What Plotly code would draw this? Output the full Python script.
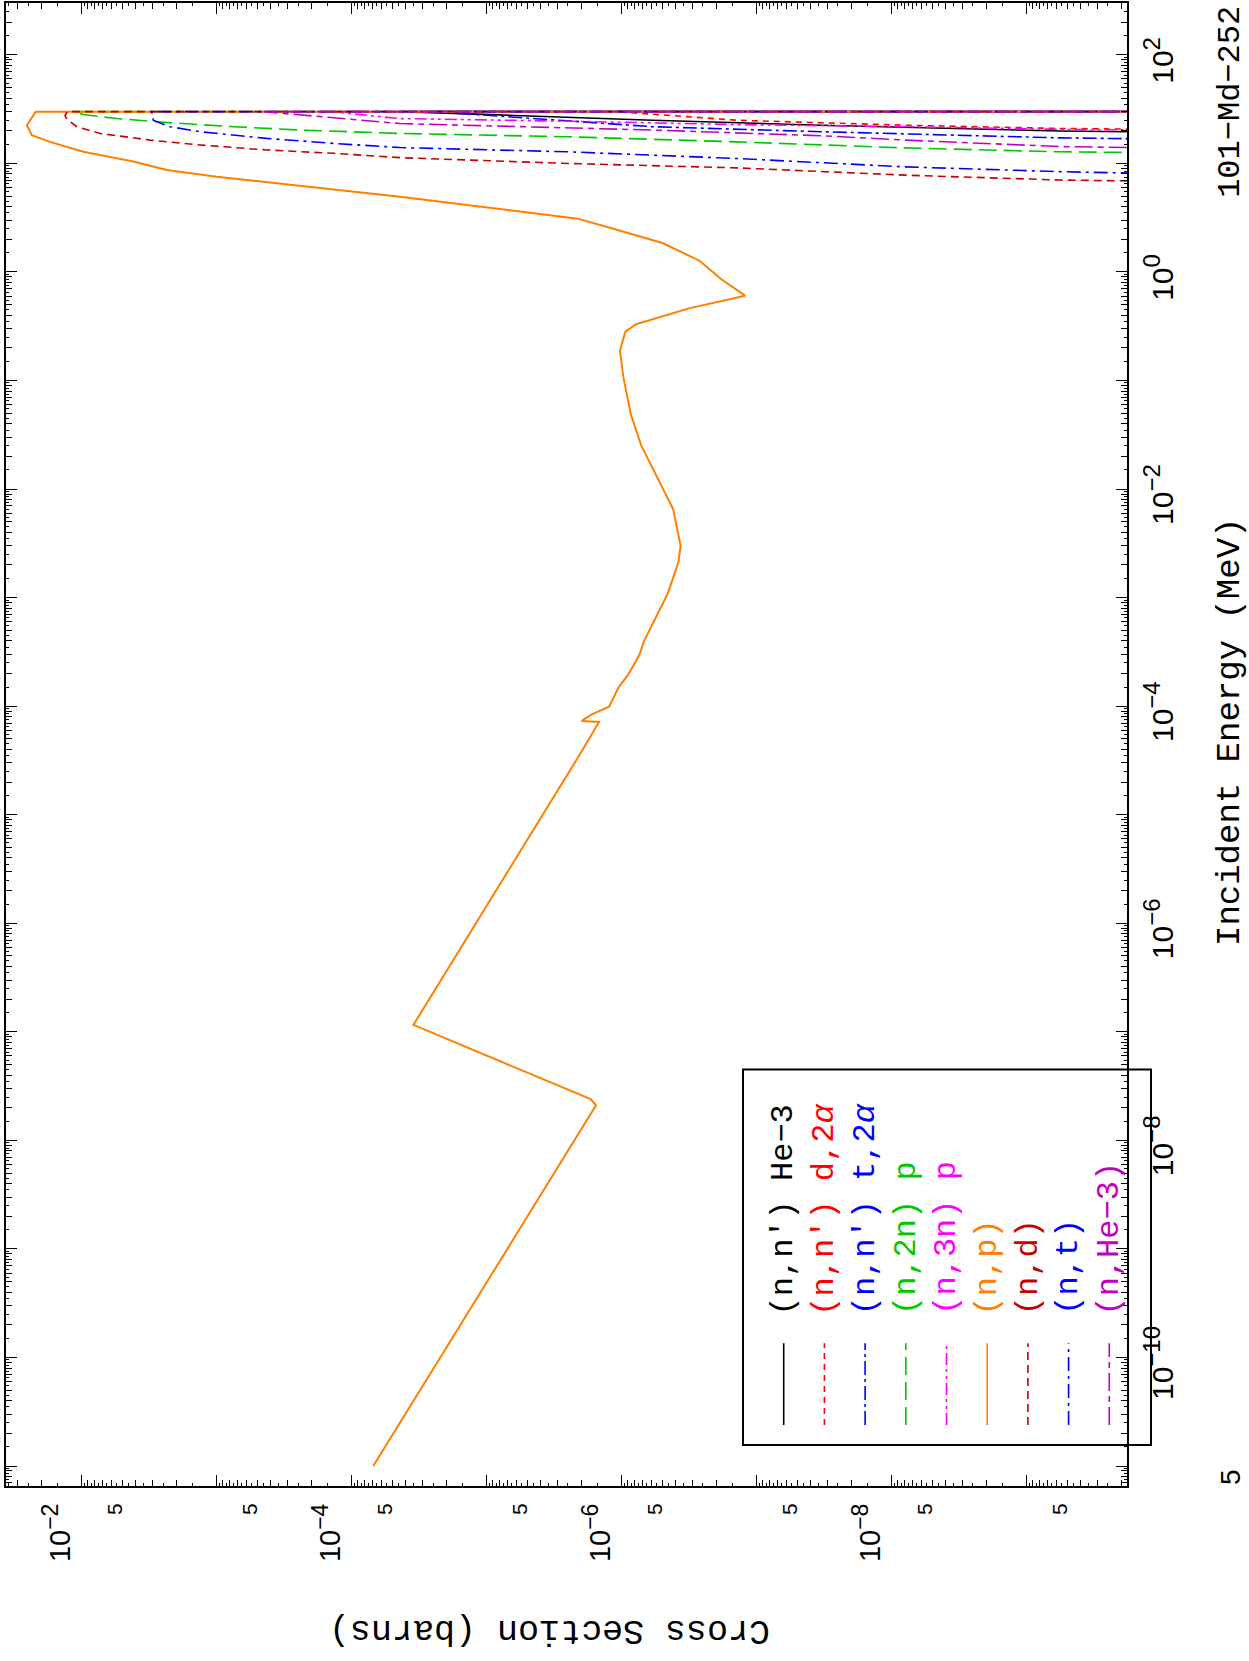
import plotly.graph_objects as go

# ---------------- data (energy in MeV, cross section in barns) ----------------
E_np = [1.0e-11, 2.1e-8, 2.4e-8, 1.16e-7, 3.24e-5, 7.16e-5, 7.31e-5, 8.41e-5, 9.89e-5,
        1.48e-4, 1.96e-4, 2.96e-4, 3.98e-4, 6.95e-4, 1.09e-3, 2.13e-3, 2.99e-3, 6.55e-3,
        1.28e-2, 2.51e-2, 4.92e-2, 0.108, 0.189, 0.282, 0.33, 0.462, 0.605, 0.865, 1.27,
        1.85, 2.48, 3.10, 4.94, 5.89, 6.79, 7.55, 8.69, 10.4, 12.8, 15.8, 18.2, 22.5, 30.0, 30.0]
XS_np = [6.93e-5, 1.55e-6, 1.70e-6, 3.49e-5, 2.15e-6, 1.47e-6, 1.98e-6, 1.67e-6, 1.24e-6,
         1.06e-6, 8.93e-7, 7.41e-7, 6.84e-7, 5.46e-7, 4.56e-7, 3.80e-7, 3.66e-7, 4.16e-7,
         5.46e-7, 7.16e-7, 8.57e-7, 9.73e-7, 1.03e-6, 9.4e-7, 7.83e-7, 3.18e-7, 1.22e-7, 1.85e-7,
         2.65e-7, 4.99e-7, 1.12e-6, 2.12e-6, 4.39e-5, 1.62e-4, 4.27e-4, 1.0e-3, 2.34e-3, 4.15e-3,
         9.73e-3, 1.72e-2, 2.34e-2, 2.55e-2, 2.19e-2, 1e-20]

E_nd = [6.6, 7.03, 7.8, 9.1, 10.0, 11.3, 12.4, 13.3, 14.8, 16.4, 18.9, 21.8, 25.5, 27.5, 30.0, 30.0]
XS_nd = [1e-11, 5.7e-10, 7.9e-9, 1.4e-7, 2.5e-6, 4.4e-5, 1.37e-4, 4.27e-4, 1.33e-3, 3.12e-3,
         7.3e-3, 1.09e-2, 1.28e-2, 1.33e-2, 1.28e-2, 1e-20]

E_n2np = [12.2, 12.8, 13.9, 15.8, 17.6, 18.9, 20.3, 21.8, 23.8, 25.9, 28.2, 30.0, 30.0]
XS_n2np = [1e-11, 5.7e-10, 7.9e-9, 1.4e-7, 2.5e-6, 4.4e-5, 2.4e-4, 7.5e-4, 2.34e-3, 5.5e-3,
           9.7e-3, 1.15e-2, 1e-20]

E_nt = [7.6, 8.4, 9.3, 11.1, 12.8, 14.0, 15.3, 17.0, 19.6, 21.8, 25.0, 30.0, 30.0]
XS_nt = [1e-11, 5.7e-10, 7.9e-9, 1.4e-7, 2.5e-6, 4.4e-5, 1.37e-4, 4.27e-4, 1.33e-3, 2.22e-3,
         2.95e-3, 3.03e-3, 1e-20]

E_nnHe3 = [18.8, 19.9, 22.5, 25.0, 28.3, 30.0, 30.0]
XS_nnHe3 = [1e-11, 5.7e-10, 3.35e-8, 5.9e-7, 1.05e-5, 4.4e-5, 1e-20]

E_nnd2a = [20.0, 21.0, 22.5, 25.0, 30.0, 30.0]
XS_nnd2a = [1e-11, 5.7e-10, 7.9e-9, 1.4e-7, 1.1e-6, 1e-20]

E_nnt2a = [16.2, 17.2, 19.6, 21.8, 27.9, 30.0, 30.0]
XS_nnt2a = [1e-11, 5.7e-10, 3.35e-8, 5.9e-7, 1.05e-5, 2.6e-5, 1e-20]

E_n3np = [19.8, 20.6, 21.8, 22.8, 24.5, 25.9, 30.0, 30.0]
XS_n3np = [1e-11, 5.7e-10, 7.9e-9, 1.4e-7, 2.5e-6, 4.4e-5, 1.45e-4, 1e-20]

E_nHe3 = [13.3, 14.3, 16.4, 18.0, 20.3, 22.2, 23.3, 30.0, 30.0]
XS_nHe3 = [1e-11, 5.7e-10, 7.9e-9, 3.35e-8, 5.9e-7, 1.05e-5, 4.4e-5, 4.5e-4, 1e-20]

labels = ["(n,n′) He−3", "(n,n′) d,2<i>α</i>", "(n,n′) t,2<i>α</i>", "(n,2n) p", "(n,3n) p",
          "(n,p)", "(n,d)", "(n,t)", "(n,He−3)"]
colors = ["#000000", "#ff0000", "#0000ff", "#00c800", "#ff00ff",
          "#ff8000", "#c80000", "#0000ff", "#c000c0"]
dashes = ["solid", "6px,5px", "14px,4px,3px,4px", "18px,7px", "12px,4px,3px,4px,3px,4px",
          "solid", "8px,5px", "14px,5px,3px,5px", "18px,5px,6px,5px"]
series_E = [E_nnHe3, E_nnd2a, E_nnt2a, E_n2np, E_n3np, E_np, E_nd, E_nt, E_nHe3]
series_XS = [XS_nnHe3, XS_nnd2a, XS_nnt2a, XS_n2np, XS_n3np, XS_np, XS_nd, XS_nt, XS_nHe3]

xs_label_decades = [-2, -4, -6, -8]
e_label_decades = [2, 0, -2, -4, -6, -8, -10]

# ---------------- layout geometry (pixels) ----------------
W, H = 1249, 1661
L, R, T, B = 6, 1127, 1, 1486
X_RANGE = [-1.439, -9.743]
Y_RANGE = [-11.184, 2.478]


def px(X):
    return (X - L) / (R - L)


def py(Y):
    return (B - Y) / (B - T)


def dec_label(k, sup_size):
    s = ("−%d" % -k) if k < 0 else str(k)
    return "10<sup><span style='font-size:%dpx'>%s</span></sup>" % (sup_size, s)


fig = go.Figure()
for e, s, c, d in zip(series_E, series_XS, colors, dashes):
    fig.add_trace(go.Scatter(x=s, y=e, mode="lines", showlegend=False, hoverinfo="skip",
                             line=dict(color=c, width=2 if c == "#ff8000" else 1.6, dash=d)))
# helper traces registering the overlay axes
for xa, ya in (("x2", "y"), ("x3", "y"), ("x", "y2")):
    fig.add_trace(go.Scatter(x=[None], y=[None], xaxis=xa, yaxis=ya, showlegend=False,
                             hoverinfo="skip"))

x_lab = [10.0 ** k for k in xs_label_decades]
x_lab_txt = [dec_label(k, 23) for k in xs_label_decades]
x_other = [10.0 ** k for k in range(-1, -11, -1) if k not in xs_label_decades]
x_min = [m * 10.0 ** k for k in range(-11, 0) for m in range(2, 10)]
x_half = [(m + 0.5) * 10.0 ** k for k in range(-11, 0) for m in range(1, 10)]
x_five = [5 * 10.0 ** k for k in range(-10, -2)]

y_lab = [10.0 ** k for k in e_label_decades]
y_lab_txt = [dec_label(k, 24) for k in e_label_decades]
y_other = [10.0 ** k for k in range(-11, 3) if k not in e_label_decades]
y_min = [m * 10.0 ** k for k in range(-12, 3) for m in range(2, 10)]
y_half = [(m + 0.5) * 10.0 ** k for k in range(-12, 3) for m in range(1, 10)]

common = dict(type="log", showgrid=False, zeroline=False, color="black")
tk = dict(ticks="inside", tickcolor="black", tickmode="array")

fig.update_layout(
    width=W, height=H, paper_bgcolor="white", plot_bgcolor="white",
    margin=dict(l=L, r=W - R, t=T, b=H - B, pad=0),
    xaxis=dict(**common, **tk, range=X_RANGE, showline=True, linecolor="black", linewidth=2,
               mirror="ticks", ticklen=11, tickwidth=1.3,
               tickvals=x_lab, ticktext=x_lab_txt, tickangle=-90,
               tickfont=dict(family="Liberation Sans", size=29, color="black"),
               ticklabelstandoff=4, ticklabelshift=21,
               minor=dict(tickmode="array", tickvals=x_min, ticks="inside", ticklen=6,
                          tickwidth=1, tickcolor="black")),
    xaxis2=dict(**common, **tk, range=X_RANGE, overlaying="x", anchor="y", side="bottom",
                showline=False, mirror="ticks", ticklen=11, tickwidth=1.3,
                tickvals=x_other, showticklabels=False,
                minor=dict(tickmode="array", tickvals=x_half, ticks="inside", ticklen=3,
                           tickwidth=1, tickcolor="black")),
    xaxis3=dict(**common, range=X_RANGE, overlaying="x", anchor="y", side="bottom",
                showline=False, ticks="", tickmode="array", tickvals=x_five,
                ticktext=["5"] * len(x_five), tickangle=-90, ticklabelstandoff=12,
                ticklabelshift=7,
                tickfont=dict(family="Liberation Sans", size=21, color="black")),
    yaxis=dict(**common, **tk, range=Y_RANGE, side="right", showline=True, linecolor="black",
               linewidth=2, mirror="ticks", ticklen=11, tickwidth=1.3,
               tickvals=y_lab, ticktext=y_lab_txt, tickangle=-90,
               tickfont=dict(family="Liberation Sans", size=30, color="black"),
               ticklabelstandoff=8, ticklabelshift=10,
               minor=dict(tickmode="array", tickvals=y_min, ticks="inside", ticklen=6,
                          tickwidth=1, tickcolor="black")),
    yaxis2=dict(**common, **tk, range=Y_RANGE, overlaying="y", anchor="x", side="right",
                showline=False, mirror="ticks", ticklen=11, tickwidth=1.3,
                tickvals=y_other, showticklabels=False,
                minor=dict(tickmode="array", tickvals=y_half, ticks="inside", ticklen=3,
                           tickwidth=1, tickcolor="black")),
)

mono = "Liberation Mono"
ann = [
    dict(text="Incident Energy (MeV)", x=px(1230), y=py(731), textangle=-90,
         font=dict(family=mono, size=34, color="black")),
    dict(text="Cross Section (barns)", x=px(550), y=py(1630), textangle=180,
         font=dict(family=mono, size=35, color="black")),
    dict(text="101−Md−252", x=px(1231), y=py(100), textangle=-90,
         font=dict(family=mono, size=32, color="black")),
    dict(text="5", x=px(1230), y=py(1477), textangle=-90,
         font=dict(family="Liberation Sans", size=28, color="black")),
]
shapes = [dict(type="rect", xref="paper", yref="paper", x0=px(743), x1=px(1151),
               y0=py(1445), y1=py(1069), line=dict(color="black", width=2))]
for i, (lab, c, d) in enumerate(zip(labels, colors, dashes)):
    xc = 783.7 + 40.7 * i
    shapes.append(dict(type="line", xref="paper", yref="paper", x0=px(xc), x1=px(xc),
                       y0=py(1425), y1=py(1343), line=dict(color=c, width=1.6, dash=d)))
    ann.append(dict(text=lab, x=px(xc), y=py(1317), textangle=-90, xanchor="center",
                    yanchor="bottom", font=dict(family=mono, size=32, color=c)))
for a in ann:
    a.setdefault("xref", "paper")
    a.setdefault("yref", "paper")
    a.setdefault("xanchor", "center")
    a.setdefault("yanchor", "middle")
    a.setdefault("showarrow", False)
fig.update_layout(annotations=ann, shapes=shapes)

fig.write_html("out.html", config={"displayModeBar": False},
               post_script="document.body.style.margin='0';")
